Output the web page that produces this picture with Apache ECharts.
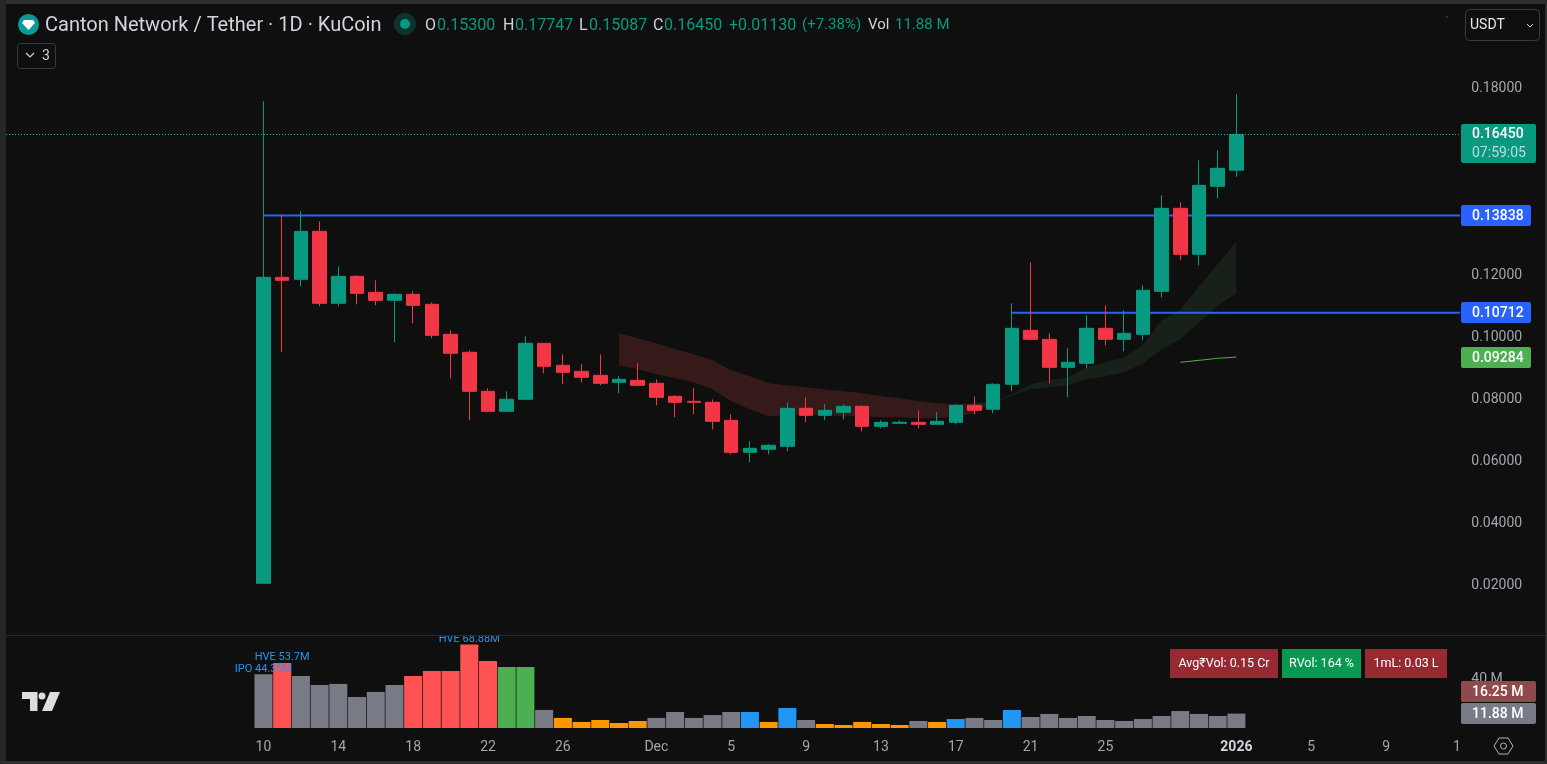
<!DOCTYPE html>
<html>
<head>
<meta charset="utf-8">
<title>Canton Network / Tether</title>
<script src="https://cdn.jsdelivr.net/npm/echarts@6/dist/echarts.min.js"></script>
<style>
  html, body { margin: 0; padding: 0; background: #0f0f0f; }
  #chart { width: 1547px; height: 764px; }
</style>
</head>
<body>
<div id="chart"></div>
<script>
// daily candles, 10 Nov 2025 to 1 Jan 2026
var opens = [0.02000,0.11851,0.11787,0.13332,0.11014,0.11883,0.11368,0.11111,0.11304,0.10982,0.10016,0.09437,0.08181,0.07537,0.07924,0.09726,0.09018,0.08825,0.08696,0.08471,0.08535,
  0.08439,0.08020,0.07859,0.07827,0.07247,0.06217,0.06314,0.06411,0.07634,0.07408,0.07505,0.07698,0.07054,0.07151,0.07183,0.07119,0.07183,0.07730,0.07602,0.08407,0.10145,0.09855,0.08954,0.09083,0.10209,0.09855,0.10016,0.11400,0.14072,0.12592,0.14781,0.15300];
var closes = [0.11851,0.11755,0.13332,0.11014,0.11883,0.11336,0.11111,0.11304,0.10950,0.09984,0.09405,0.08181,0.07537,0.07924,0.09726,0.08986,0.08793,0.08632,0.08439,0.08567,0.08374,
  0.07988,0.07827,0.07827,0.07215,0.06217,0.06346,0.06443,0.07634,0.07408,0.07569,0.07698,0.07054,0.07183,0.07183,0.07119,0.07215,0.07730,0.07569,0.08407,0.10209,0.09855,0.08954,0.09115,0.10209,0.09855,0.10048,0.11433,0.14072,0.12592,0.14813,0.15360,0.16450];
var lows = [0.02000,0.09437,0.11561,0.10918,0.10918,0.10982,0.10950,0.09759,0.10370,0.09887,0.08600,0.07247,0.07505,0.07505,0.07891,0.08761,0.08407,0.08471,0.08374,0.08117,0.08374,
  0.07730,0.07344,0.07441,0.06958,0.06153,0.05896,0.06153,0.06250,0.07183,0.07247,0.07280,0.06893,0.06990,0.07151,0.06990,0.07119,0.07119,0.07441,0.07473,0.08181,0.09823,0.08439,0.07988,0.08922,0.09662,0.09469,0.09823,0.11207,0.12398,0.12238,0.14394,0.15087];
var highs = [0.17517,0.13879,0.13976,0.13654,0.12205,0.11916,0.11755,0.11336,0.11400,0.11046,0.10145,0.09501,0.08278,0.08181,0.09952,0.09726,0.09372,0.09050,0.09372,0.08664,0.09083,
  0.08567,0.08052,0.08278,0.07924,0.07441,0.06572,0.06475,0.07827,0.07988,0.07763,0.07763,0.07730,0.07247,0.07247,0.07569,0.07505,0.07763,0.08020,0.08439,0.11014,0.12334,0.10048,0.09566,0.10628,0.10950,0.10789,0.11594,0.14491,0.14266,0.15618,0.15940,0.17747];

// volume in millions and the colour class of each bar
var volumes = [44.35,53.7,43,35.5,36.4,25.6,29.8,35.5,43,47.1,47.1,68.88,55.4,50.4,50.4,14.9,8.3,5,6.6,4.1,5.8,
  8.3,13.2,8.3,10.7,13.2,13.2,5,16.5,6.6,3.3,2.5,5,3.3,2.5,5.8,5,7.4,8.3,6.6,14.9,9.1,11.6,8.3,9.9,6.6,5.8,7.4,9.9,14,11.6,9.9,11.88];
var volumeKinds = ["n","r","n","n","n","n","n","n","r","r","r","r","r","g","g","n","o","o","o","o","o",
  "n","n","n","n","n","b","o","b","n","o","o","o","o","o","n","o","b","n","n","b","n","n","n","n","n","n","n","n","n","n","n","n"];
var volumeColors = { n: "#787b86", r: "#ff5252", g: "#4caf50", o: "#ff9800", b: "#2196f3" };
var volumeNotes = { 0: "IPO 44.35M", 1: "HVE 53.7M", 11: "HVE 68.88M" };

// ribbon edges, maroon from 29 Nov and green from 19 Dec
var maroonUpper = [0.10048,0.09887,0.09726,0.09533,0.09372,0.09179,0.08857,0.08664,0.08439,0.08374,0.08310,0.08246,0.08181,0.08117,0.08020,0.07956,0.07859,0.07795,0.07763,0.07795,0.07827];
var maroonLower = [0.09018,0.08889,0.08728,0.08600,0.08471,0.08246,0.07859,0.07602,0.07376,0.07408,0.07408,0.07408,0.07376,0.07376,0.07344,0.07344,0.07312,0.07312,0.07376,0.07473,0.07763];
var greenUpper = [0.07827,0.08085,0.08407,0.08535,0.08632,0.08954,0.09115,0.09276,0.09662,0.10467,0.10821,0.11561,0.12270,0.13010];
var greenLower = [0.07763,0.08052,0.08246,0.08310,0.08374,0.08567,0.08664,0.08793,0.09083,0.09533,0.09855,0.10402,0.10918,0.11336];
// short green line, 29 Dec to 1 Jan
var shortLine = [0.09115,0.09179,0.09244,0.09284];

var lastClose = 0.16450;
var levelHigh = 0.13838;
var levelLow = 0.10712;

// axis ticks
var priceTicks = [0.18,0.12,0.10,0.08,0.06,0.04,0.02];
var tickDates = ["2025-11-10","2025-11-14","2025-11-18","2025-11-22","2025-11-26","2025-12-01","2025-12-05","2025-12-09","2025-12-13","2025-12-17","2025-12-21","2025-12-25","2026-01-01","2026-01-05","2026-01-09","2026-01-13"];
var tickLabels = ["10","14","18","22","26","Dec","5","9","13","17","21","25","2026","5","9","13"];

// 13 empty days in front and 12 behind so the bars land where they do in the picture
var totalDays = 78;
var categories = [];
for (var i = 0; i < totalDays; i++) {
  categories.push(new Date(Date.UTC(2025, 9, 28 + i)).toISOString().slice(0, 10));
}

// put an array on the axis, starting at the given date
function placeAt(date, values, empty) {
  var start = categories.indexOf(date);
  return categories.map(function (c, idx) {
    var v = values[idx - start];
    return v === undefined ? empty : v;
  });
}
// flat level from a date to the end of the axis
function levelFrom(date, value) {
  var start = categories.indexOf(date);
  return categories.map(function (c, idx) {
    return idx >= start ? value : "-";
  });
}
function diff(upper, lower) {
  return upper.map(function (v, idx) { return v - lower[idx]; });
}

var candleData = opens.map(function (o, idx) {
  return [o, closes[idx], lows[idx], highs[idx]];
});
var volumeData = volumes.map(function (v, idx) {
  var item = { value: v, itemStyle: { color: volumeColors[volumeKinds[idx]] } };
  if (volumeNotes[idx]) {
    item.label = { show: true, position: "top", distance: 0, color: "#2196f3", fontSize: 11, formatter: volumeNotes[idx] };
  }
  return item;
});

var FONT = "Roboto, sans-serif";
var BG = "#0f0f0f";

function text(x, y, str, color, size, extra) {
  var style = { x: x, y: y + 1, text: str, fill: color, fontSize: size || 14, fontFamily: FONT, verticalAlign: "middle", align: "left" };
  for (var k in extra) { style[k] = extra[k]; }
  return { type: "text", z: 80, style: style, silent: true };
}
function box(x, y, w, h, color, r, z) {
  return { type: "rect", z: z || 70, shape: { x: x, y: y, width: w, height: h, r: r || 0 }, style: { fill: color }, silent: true };
}
function outline(x, y, w, h, r) {
  return { type: "rect", z: 70, shape: { x: x + 0.5, y: y + 0.5, width: w, height: h, r: r }, style: { fill: "transparent", stroke: "#363a45", lineWidth: 1 }, silent: true };
}

var graphics = [
  // hides the part of the panes behind the price scale
  box(1460, 0, 87, 764, BG, 0, 40),
  // pane divider and outer frame
  box(0, 624, 1460, 11, BG, 0, 41),
  box(0, 635, 1547, 1, "#2a2a2a", 0, 42),
  box(0, 0, 1547, 4, "#2e2e2e", 0, 90),
  box(0, 0, 6, 764, "#262626", 0, 90),
  box(0, 761, 1547, 3, "#2e2e2e", 0, 90),
  box(1545, 0, 2, 764, "#2e2e2e", 0, 90),

  // symbol header
  { type: "circle", z: 70, shape: { cx: 28.5, cy: 24.5, r: 10.5 }, style: { fill: "#0a9a9a" }, silent: true },
  { type: "polygon", z: 71, shape: { points: [[24, 20], [33, 20], [35, 23], [28.5, 30], [22, 23]] }, style: { fill: "#ffffff" }, silent: true },
  text(45, 24.5, "Canton Network / Tether · 1D · KuCoin", "#d1d4dc", 20),
  { type: "circle", z: 70, shape: { cx: 405, cy: 24, r: 11 }, style: { fill: "#0e332d" }, silent: true },
  { type: "circle", z: 71, shape: { cx: 405, cy: 24, r: 5 }, style: { fill: "#089981" }, silent: true },
  text(425, 24.5, "O", "#d1d4dc", 16), text(437, 24.5, "0.15300", "#089981", 16),
  text(503, 24.5, "H", "#d1d4dc", 16), text(515, 24.5, "0.17747", "#089981", 16),
  text(579, 24.5, "L", "#d1d4dc", 16), text(589, 24.5, "0.15087", "#089981", 16),
  text(653, 24.5, "C", "#d1d4dc", 16), text(664, 24.5, "0.16450", "#089981", 16),
  text(729, 24.5, "+0.01130", "#089981", 16), text(802, 24.5, "(+7.38%)", "#089981", 15),
  text(868, 24.5, "Vol", "#d1d4dc", 15), text(895, 24.5, "11.88 M", "#089981", 15),

  // collapsed indicators button
  outline(17, 43, 38, 25, 3),
  { type: "polyline", z: 71, shape: { points: [[26, 53], [30, 57], [34, 53]] }, style: { stroke: "#d1d4dc", lineWidth: 1.2, fill: "none" }, silent: true },
  text(42, 55, "3", "#d1d4dc"),

  // currency button
  outline(1465, 9, 74, 31, 4),
  text(1470, 24.5, "USDT", "#e8e8e8"),
  { type: "polyline", z: 71, shape: { points: [[1527, 24], [1530, 27], [1533, 24]] }, style: { stroke: "#d1d4dc", lineWidth: 1, fill: "none" }, silent: true },
  box(1446, 16, 2, 2, "#2a2e45", 0, 70),

  // price tags
  box(1461, 124, 75, 39, "#089981", 2),
  text(1472, 133.5, "0.16450", "#ffffff", 14, { fontWeight: 500 }),
  text(1472, 152.5, "07:59:05", "#b5e0d8"),
  box(1461, 205, 70, 21, "#2962ff", 2),
  text(1472, 215, "0.13838", "#ffffff", 14, { fontWeight: 500 }),
  box(1461, 302, 70, 21, "#2962ff", 2),
  text(1472, 312, "0.10712", "#ffffff", 14, { fontWeight: 500 }),
  box(1461, 347, 70, 21, "#4caf50", 2),
  text(1472, 357, "0.09284", "#ffffff", 14, { fontWeight: 500 }),

  // volume tags
  box(1461, 681, 75, 21, "#8f4a4c", 2),
  text(1472, 691, "16.25 M", "#ffffff", 14, { fontWeight: 500 }),
  box(1461, 703, 75, 21, "#787b86", 2),
  text(1472, 713, "11.88 M", "#ffffff", 14, { fontWeight: 500 }),

  // stat boxes above the volume
  box(1170, 649, 108, 29, "#972931"),
  text(1224, 663, "Avg₹Vol: 0.15 Cr", "#ffffff", 12.5, { align: "center" }),
  box(1282, 649, 79, 29, "#089950"),
  text(1321.5, 663, "RVol: 164 %", "#ffffff", 12.5, { align: "center" }),
  box(1365, 649, 82, 29, "#972931"),
  text(1406, 663, "1mL: 0.03 L", "#ffffff", 12.5, { align: "center" }),

  // tradingview mark
  { type: "polygon", z: 70, shape: { points: [[22, 692], [37.5, 692], [37.5, 711], [30, 711], [30, 699], [22, 699]] }, style: { fill: "#dddddd" }, silent: true },
  { type: "circle", z: 70, shape: { cx: 42, cy: 696, r: 3.5 }, style: { fill: "#dddddd" }, silent: true },
  { type: "polygon", z: 70, shape: { points: [[50, 692], [60, 692], [52, 711], [42, 711]] }, style: { fill: "#dddddd" }, silent: true },

  // settings icon
  { type: "polygon", z: 70, shape: { points: [[1494, 746], [1499, 738], [1508, 738], [1513, 746], [1508, 754], [1499, 754]] }, style: { fill: "none", stroke: "#b2b5be", lineWidth: 1 }, silent: true },
  { type: "circle", z: 70, shape: { cx: 1503.5, cy: 746, r: 3 }, style: { fill: "none", stroke: "#b2b5be", lineWidth: 1 }, silent: true }
];

var grids = [
  { left: 10.9, width: 1459.38, top: 24.2, height: 621.25 },
  { left: 10.9, width: 1459.38, top: 636, height: 92 }
];

var option = {
  animation: false,
  backgroundColor: BG,
  textStyle: { fontFamily: FONT },
  grid: grids,
  graphic: graphics,
  xAxis: [
    { type: "category", gridIndex: 0, data: categories, show: false },
    {
      type: "category",
      gridIndex: 1,
      data: categories,
      axisLine: { show: false },
      axisTick: { show: false },
      splitLine: { show: false },
      axisLabel: {
        color: "#a3a6af",
        fontSize: 14,
        margin: 12,
        hideOverlap: false,
        interval: function (idx, value) { return tickDates.indexOf(value) >= 0; },
        formatter: function (value) {
          var label = tickLabels[tickDates.indexOf(value)];
          return label === "2026" ? "{year|2026}" : label;
        },
        rich: { year: { color: "#d1d4dc", fontWeight: "bold", fontSize: 14 } }
      }
    }
  ],
  yAxis: [
    {
      type: "value",
      gridIndex: 0,
      position: "right",
      min: 0,
      max: 0.2,
      z: 60,
      axisLine: { show: false },
      axisTick: { show: false },
      splitLine: { show: false },
      axisLabel: {
        customValues: priceTicks,
        color: "#a3a6af",
        fontSize: 14,
        margin: 1,
        formatter: function (v) { return "{p|" + v.toFixed(5) + "}"; },
        rich: { p: { color: "#a3a6af", fontSize: 14, padding: [5, 0, 0, 0] } }
      }
    },
    {
      type: "value",
      gridIndex: 1,
      position: "right",
      min: 0,
      max: 76,
      z: 60,
      axisLine: { show: false },
      axisTick: { show: false },
      splitLine: { show: false },
      axisLabel: {
        customValues: [40],
        color: "#a3a6af",
        fontSize: 14,
        margin: 1,
        formatter: function (v) { return v + " M"; }
      }
    }
  ],
  series: [
    // ribbons go under everything
    { type: "line", stack: "maroon", data: placeAt("2025-11-29", maroonLower, "-"), showSymbol: false, silent: true, z: 1, lineStyle: { width: 0 } },
    { type: "line", stack: "maroon", data: placeAt("2025-11-29", diff(maroonUpper, maroonLower), "-"), showSymbol: false, silent: true, z: 1, lineStyle: { width: 0 }, areaStyle: { color: "#361a1a", opacity: 1 } },
    { type: "line", stack: "green", data: placeAt("2025-12-19", greenLower, "-"), showSymbol: false, silent: true, z: 1, lineStyle: { width: 0 } },
    { type: "line", stack: "green", data: placeAt("2025-12-19", diff(greenUpper, greenLower), "-"), showSymbol: false, silent: true, z: 1, lineStyle: { width: 0 }, areaStyle: { color: "#18201a", opacity: 1 } },
    // horizontal levels
    { type: "line", data: levelFrom("2025-11-10", levelHigh), showSymbol: false, silent: true, z: 2, lineStyle: { color: "#2962ff", width: 2 } },
    { type: "line", data: levelFrom("2025-12-20", levelLow), showSymbol: false, silent: true, z: 2, lineStyle: { color: "#2962ff", width: 2 } },
    {
      type: "candlestick",
      data: placeAt("2025-11-10", candleData, ["-", "-", "-", "-"]),
      barWidth: 14,
      clip: false,
      z: 3,
      silent: true,
      itemStyle: { color: "#089981", color0: "#f23645", borderColor: "#089981", borderColor0: "#f23645", borderWidth: 1 },
      markLine: {
        symbol: "none",
        silent: true,
        precision: 5,
        label: { show: false },
        lineStyle: { color: "#0fb89b", type: [1, 2], width: 1, opacity: 1 },
        data: [[{ x: 6, yAxis: lastClose }, { x: 1460, yAxis: lastClose }]]
      }
    },
    { type: "line", data: placeAt("2025-12-29", shortLine, "-"), showSymbol: false, silent: true, z: 4, lineStyle: { color: "#4caf50", width: 1 } },
    {
      type: "bar",
      xAxisIndex: 1,
      yAxisIndex: 1,
      data: placeAt("2025-11-10", volumeData, { value: "-" }),
      barWidth: 18,
      silent: true,
      z: 3
    }
  ]
};

var chart = echarts.init(document.getElementById("chart"));
chart.setOption(option);
</script>
</body>
</html>
